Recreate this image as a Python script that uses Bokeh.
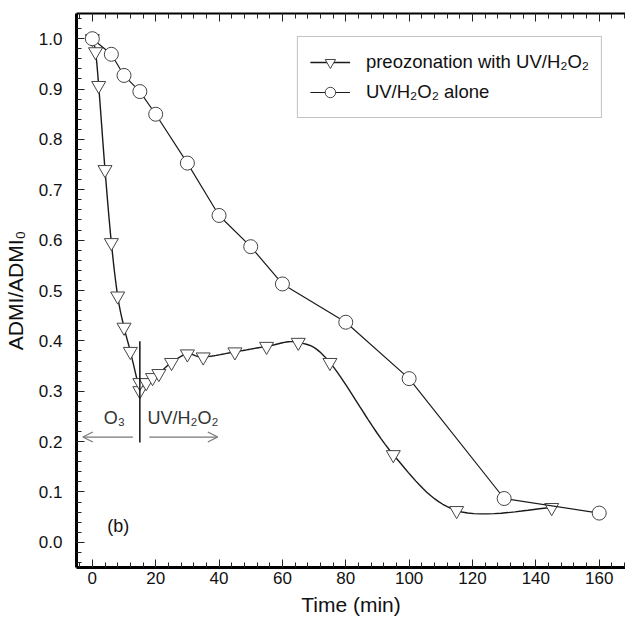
import numpy as np
from bokeh.plotting import figure
from bokeh.models import (LinearAxis, SingleIntervalTicker, Range1d, Legend, LegendItem,
                          Arrow, OpenHead, Label, NumeralTickFormatter, CustomJSTickFormatter)
from bokeh.embed import file_html
from bokeh.resources import INLINE

# ---- data ----
preoz_time = [0, 1, 2, 4, 6, 8, 10, 12, 15, 15, 17, 19, 21, 25, 30, 35, 45, 55, 65, 75, 95, 115, 145]
preoz_admi = [1.0, 0.974, 0.907, 0.74, 0.595, 0.489, 0.427, 0.379, 0.301, 0.317, 0.317, 0.327,
              0.335, 0.357, 0.374, 0.368, 0.378, 0.389, 0.397, 0.357, 0.174, 0.063, 0.069]
uv_time = [0, 6, 10, 15, 20, 30, 40, 50, 60, 80, 100, 130, 160]
uv_admi = [1.0, 0.969, 0.927, 0.895, 0.85, 0.753, 0.649, 0.587, 0.513, 0.437, 0.325, 0.087, 0.058]

x_ticks_interval = 20
y_ticks_interval = 0.1

FONT = "Liberation Sans"


def catmull_rom(xs, ys, yscale, n=16):
    pts = np.column_stack([np.asarray(xs, float), np.asarray(ys, float) * yscale])
    p = np.vstack([pts[0], pts, pts[-1]])
    out = []
    for i in range(1, len(p) - 2):
        p0, p1, p2, p3 = p[i - 1], p[i], p[i + 1], p[i + 2]
        for t in np.linspace(0, 1, n, endpoint=False):
            t2, t3 = t * t, t * t * t
            out.append(0.5 * ((2 * p1) + (-p0 + p2) * t + (2 * p0 - 5 * p1 + 4 * p2 - p3) * t2
                              + (-p0 + 3 * p1 - 3 * p2 + p3) * t3))
    out.append(pts[-1])
    out = np.array(out)
    return out[:, 0], out[:, 1] / yscale


p = figure(width=625, height=626, output_backend="svg", toolbar_location=None,
           x_range=Range1d(-5, 168.3), y_range=Range1d(-0.05, 1.05),
           x_axis_location=None, y_axis_location=None,
           min_border_left=75, min_border_right=0, min_border_top=13, min_border_bottom=59)
p.outline_line_color = None
p.grid.visible = False
p.background_fill_color = "white"
p.border_fill_color = "white"

xt = SingleIntervalTicker(interval=x_ticks_interval, num_minor_ticks=5)
yt = SingleIntervalTicker(interval=y_ticks_interval, num_minor_ticks=5)


def style_axis(ax, width):
    ax.axis_line_width = width
    ax.axis_line_color = "black"
    ax.major_tick_in = 8
    ax.major_tick_out = 0
    ax.minor_tick_in = 5
    ax.minor_tick_out = 0
    ax.major_tick_line_color = "#222222"
    ax.minor_tick_line_color = "#222222"
    ax.major_tick_line_width = 1
    ax.minor_tick_line_width = 1
    ax.major_label_text_font = FONT
    ax.major_label_text_font_size = "17px"
    ax.major_label_text_color = "#111111"
    ax.axis_label_text_font = FONT
    ax.axis_label_text_font_style = "normal"
    ax.axis_label_text_font_size = "21px"
    ax.axis_label_text_color = "#111111"


xb = LinearAxis(ticker=xt, axis_label="Time (min)")
style_axis(xb, 3)
xb.major_label_standoff = 4
xb.axis_label_standoff = 6
p.add_layout(xb, "below")

yl = LinearAxis(ticker=yt, axis_label="ADMI/ADMI\u2080", formatter=NumeralTickFormatter(format="0.0"))
style_axis(yl, 3)
yl.major_label_standoff = 14
yl.axis_label_standoff = 9
p.add_layout(yl, "left")

xa = LinearAxis(ticker=xt, axis_label=None, formatter=CustomJSTickFormatter(code="return ''"))
style_axis(xa, 2)
xa.major_label_standoff = 0
p.add_layout(xa, "above")

# ---- series ----
yscale = (554 / 1.1) / (550 / 173.3)
sx, sy = catmull_rom(preoz_time, preoz_admi, yscale)
l1 = p.line(sx, sy, line_color="#1a1a1a", line_width=1.4)
m1 = p.scatter(preoz_time, preoz_admi, marker="inverted_triangle", size=14,
               fill_color="white", line_color="#444444", line_width=1)

l2 = p.line(uv_time, uv_admi, line_color="#1a1a1a", line_width=1.2)
m2 = p.scatter(uv_time, uv_admi, marker="circle", size=14,
               fill_color="white", line_color="#444444", line_width=1)

legend = Legend(items=[
    LegendItem(label="preozonation with UV/H\u2082O\u2082", renderers=[l1, m1]),
    LegendItem(label="UV/H\u2082O\u2082 alone", renderers=[l2, m2]),
], location="top_right")
legend.margin = 23
legend.border_line_color = "#888888"
legend.border_line_width = 1.2
legend.label_text_font = FONT
legend.label_text_font_size = "18.5px"
legend.label_text_color = "#111111"
legend.glyph_width = 40
legend.glyph_height = 26
legend.label_height = 26
legend.spacing = 4
legend.padding = 12
legend.label_standoff = 16
legend.background_fill_alpha = 1
p.add_layout(legend)

# ---- annotations ----
switch_t = 15
arrow_y = 0.209
p.add_layout(Arrow(x_start=switch_t, y_start=0.198, x_end=switch_t, y_end=0.399, end=None,
                   line_color="#111111", line_width=1.5))
p.add_layout(Arrow(x_start=12.8, y_start=arrow_y, x_end=-3.0, y_end=arrow_y,
                   end=OpenHead(size=10, line_color="#777777", line_width=1.2),
                   line_color="#777777", line_width=1.2))
p.add_layout(Arrow(x_start=18.0, y_start=arrow_y, x_end=39.6, y_end=arrow_y,
                   end=OpenHead(size=10, line_color="#777777", line_width=1.2),
                   line_color="#777777", line_width=1.2))
p.add_layout(Label(x=7.0, y=0.246, text="O\u2083", text_font=FONT, text_font_size="18px",
                   text_color="#333333", text_align="center", text_baseline="middle"))
p.add_layout(Label(x=28.6, y=0.246, text="UV/H\u2082O\u2082", text_font=FONT, text_font_size="18px",
                   text_color="#333333", text_align="center", text_baseline="middle"))
p.add_layout(Label(x=8.2, y=0.032, text="(b)", text_font=FONT, text_font_size="18px",
                   text_color="#111111", text_align="center", text_baseline="middle"))

open("out.html", "w").write(file_html(p, INLINE))
